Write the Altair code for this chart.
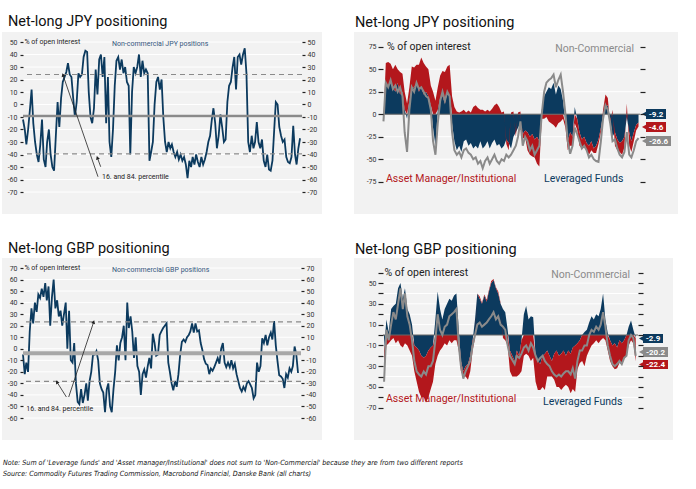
import altair as alt
import pandas as pd

# ------------------------------------------------------------------
# Values (% of open interest)
# ------------------------------------------------------------------
# Non-commercial net-long JPY, monthly from Jan 2006
JPY_NC_LONG = [
    -12, -20, -32, -20, -5, 12, -15, -30, -40, -46, -32, -12,
    -44, -50, -30, -20, -40, -50, -53, -25, 2, -18, 5, 18,
    22, 26, 33, 24, 22, 5, -10, 2, 25, 22, 24, 38,
    43, 42, 10, -10, -15, -3, 28, 8, 36, 40, 22, 38,
    -15, 22, -30, -42, -20, 15, 35, 38, 28, 36, 25, 30,
    18, 15, -40, 10, 30, 25, 30, 40, 22, 35, 25, 28,
    25, -45, -38, -30, 0, 18, 22, 12, 20, -10, -30, -38,
    -30, -35, -32, -38, -42, -38, -44, -40, -45, -42, -48, -59,
    -45, -50, -42, -48, -40, -46, -50, -42, -48, -44, -38, -30,
    -25, -12, -3, -15, -35, -25, -8, -18, -30, -28, 2, 15,
    18, 30, 38, 12, 38, 40, 32, 40, 45, 25, -30, -38,
    -25, -35, -30, -14, -30, -35, -28, -45, -50, -40, -52, -53,
    -45, -20, 2, 0, -18, -25, -30, -28, -42, -46, -47, -42,
    -17, -40, -48, -35, -27,
]
# Non-commercial net-long GBP, monthly from Jan 2006
GBP_NC_LONG = [
    -5, -22, -12, -20, 15, 35, 22, 40, 32, 47, 44, 52,
    45, 57, 42, 54, 20, 45, 60, 35, 42, 28, 33, 20,
    30, 40, 0, 33, -10, -12, 5, -30, -46, -48, -35, -47,
    -40, -30, -45, -28, -20, -5, -5, -2, -10, -30, -35, -38,
    -55, -35, -30, -50, -55, -35, -20, 3, -10, 5, 10, 20,
    -10, 40, 18, 28, 15, -8, 10, -15, -20, -40, -22, -18,
    -25, -15, -8, -17, 13, 5, -6, -5, 12, 15, 18, 20,
    22, -12, -20, -30, -36, -28, -33, -22, -5, 6, 8, 6,
    10, 12, 15, 22, 14, 22, 15, 16, 5, -1, -9, -13,
    -14, -22, -17, -19, -16, -12, -8, -13, 0, 5, -12, -16,
    -12, -16, -10, -17, -13, -22, -28, -34, -37, -33, -36, -30,
    -28, -31, -34, -43, -40, -12, -20, -15, 9, 5, 12, 3,
    10, 14, 8, 24, 3, -11, -23, -24, -26, -34, -22, -25,
    -17, -20, -15, 2, -5, -21,
]

# JPY by trader type, monthly from mid-Jun 2010
JPY_LEV = [
    -3, 35, 30, 38, 30, 25, 35,
    22, 25, 5, -5, 15, 28, 30, 35, 25, 30, 22, 25,
    20, 10, -15, -35, 5, 18, 20, 12, 25, 20, -10, -30,
    -40, -35, -42, -30, -28, -35, -32, -38, -35, -38, -30, -38,
    -35, -30, -38, -32, -28, -35, -33, -38, -35, -28, -32, -38,
    -25, -20, -15, -10, -22, -18, -20, -25, -22, -28, -25, -30,
    5, 20, 25, 30, 28, 35, 22, 32, 28, 15, -10, -30,
    -20, -25, 8, -5, -20, -28, -25, -32, -35, -30, -38, -35,
    -28, -15, 0, 8, 10, -5, -25, -20, -28, -32, -30, -25,
    -3, -20, -30, -20, -12, -9.2,
]
JPY_AM = [
    -2, 22, 28, 18, 20, 30, 15,
    25, 20, 20, 12, 15, 25, 22, 20, 30, 33, 35, 28,
    30, 22, 25, 15, 25, 25, 28, 35, 28, 35, 20, 8,
    3, 2, 3, 5, 2, 4, 2, 8, 10, 7, 5, 5,
    3, 5, 3, 6, 10, 12, 8, 2, 3, -5, -8, 2,
    3, -5, 2, 3, -5, -8, -20, -20, -25, -20, -30, -28,
    -5, -5, -3, -8, -10, -12, -15, -10, -8, -5, -5, -10,
    -15, -10, -10, -12, -15, -10, -12, -8, -10, -10, -5, -8,
    -5, -5, 5, 14, 8, -5, 5, -15, -12, -10, -15, -12,
    12, -15, -12, -10, -6, -4.6,
]
JPY_NC = [
    -8, 35, 30, 38, 28, 32, 25,
    30, 20, -20, -42, 5, 30, 25, 35, 28, 30, 25, 20,
    18, 5, -30, -45, -10, 15, 25, 15, 25, 20, -20, -40,
    -45, -42, -48, -40, -38, -43, -45, -50, -48, -55, -52, -60,
    -52, -48, -55, -50, -45, -52, -55, -50, -52, -45, -48, -45,
    -40, -35, -25, -8, -35, -25, -30, -40, -35, -45, -40, -35,
    0, 25, 35, 38, 40, 44, 30, 38, 44, 25, 0, -30,
    -44, -35, -15, -22, -30, -38, -35, -40, -48, -45, -50, -52,
    -53, -30, -5, 10, 5, -10, -30, -28, -38, -45, -48, -42,
    -20, -45, -48, -40, -30, -26.6,
]

# GBP by trader type, monthly from mid-Jun 2010
GBP_LEV = [
    -15, 15, 3, 25, 28, 30, 45,
    50, 35, 45, 25, 20, 10, -10, -12, -15, -20, -22, -20,
    -15, -12, -10, 15, 42, 25, 15, 25, 30, 35, 33, 38,
    40, 5, -25, -35, -30, -28, -20, -5, 15, 40, 35, 30,
    38, 32, 42, 50, 53, 45, 40, 30, 25, 22, 5, -15,
    -20, -25, -15, -20, -5, 20, 28, 15, 18, 17, -20, -25,
    -28, -20, -18, -15, -20, -25, -18, -15, -20, -18, -15, -20,
    -15, -18, -12, -10, -8, -5, 0, 3, 5, 12, 18, 15,
    20, 18, 25, 40, 15, 2, -5, -10, -8, -12, -5, -8,
    -5, 0, 8, 14, 5, -2.9,
]
GBP_AM = [
    -25, -10, -8, -5, -3, -8, -5,
    -10, -12, -8, -10, -15, -20, -25, -33, -40, -40, -38, -45,
    -45, -40, -35, -28, -20, -15, -12, -8, -10, -5, -8, -5,
    -5, -15, -10, -5, -10, -15, -15, -10, -3, 0, 2, 1,
    1, 2, 1, 2, 1, 1, 2, 1, -3, -5, -10, -20,
    -20, -15, -25, -18, -30, -20, -18, -20, -25, -22, -25, -28,
    -25, -30, -35, -25, -20, -15, -25, -35, -30, -35, -35, -28,
    -35, -38, -40, -45, -25, -22, -25, -30, -20, -15, -10, -8,
    -5, -8, -5, -3, -5, -15, -20, -20, -25, -20, -22, -20,
    -18, -20, -10, -5, -8, -22.4,
]
GBP_NC = [
    -45, 5, -5, 10, 22, 15, 30,
    45, 25, 40, 18, 10, -5, -25, -35, -38, -40, -35, -38,
    -30, -30, -25, -5, 20, 5, 0, 8, 10, 18, 20, 22,
    25, -10, -30, -42, -35, -30, -25, -10, 0, 10, 12, 8,
    10, 12, 15, 18, 22, 15, 18, 10, 8, 5, -10, -20,
    -24, -28, -20, -22, -18, -12, -10, -15, -8, -12, -20, -25,
    -22, -20, -25, -28, -30, -35, -38, -40, -38, -40, -37, -35,
    -35, -38, -32, -42, -25, -15, -15, -10, -10, 0, 5, 3,
    8, 5, 10, 22, 8, -10, -20, -28, -30, -28, -25, -28,
    -22, -20, -5, 0, -3, -20.2,
]

JPY_PCT = [24, -39.5]
JPY_AVG = -9.2
GBP_PCT = [23.3, -28.3]
GBP_AVG = -3.8

YEARS_LEFT = [2006, 2008, 2010, 2012, 2014, 2016, 2018]
YEARS_RIGHT = [2012, 2014, 2016, 2018]

# ------------------------------------------------------------------
NAVY = "#0c3a5e"
RED = "#b3171c"
GREY = "#8a8a8a"
PANEL = "#f2f2f2"
INK = "#222222"
FONT = "Roboto"
NARROW = "'DejaVu Sans Condensed', 'Liberation Sans Narrow', Roboto, sans-serif"
ONE = alt.Data(values=[{"a": 1}])


def dt(y, m=1, d=1):
    return alt.DateTime(year=y, month=m, date=d)


def box(x1, x2, y1, y2, color):
    return alt.Chart(ONE).mark_rect(color=color).encode(
        x=alt.value(x1), x2=alt.value(x2), y=alt.value(y1), y2=alt.value(y2))


def label(text, x, y, size, color, align="left", font=FONT, weight="normal",
          style="normal", baseline="middle"):
    return alt.Chart(ONE).mark_text(
        text=text, align=align, baseline=baseline, fontSize=size, color=color,
        font=font, fontWeight=weight, fontStyle=style).encode(
        x=alt.value(x), y=alt.value(y))


def tag(x1, x2, y1, y2, color, text):
    cy = (y1 + y2) / 2
    tri = alt.Chart(ONE).mark_point(shape="triangle-left", filled=True, size=22,
                                    color=color, opacity=1).encode(
        x=alt.value(x1 - 2), y=alt.value(cy))
    return [box(x1, x2, y1, y2, color), tri,
            label(text, (x1 + x2) / 2, cy + 0.5, 8, "white", align="center",
                  weight="bold")]


def y_axis(vals, orient, labels=True, tick=3, pad=3, expr="toString(datum.value)"):
    return alt.Axis(orient=orient, values=vals, grid=False, domain=False,
                    ticks=True, tickSize=tick, tickColor=INK, tickWidth=1.2,
                    labels=labels, labelFontSize=7, labelColor="#333",
                    labelPadding=pad, labelFont=FONT, labelExpr=expr,
                    title=None, zindex=1)


# ------------------------------------------------------------------
def left_panel(values, ydom, tickvals, avg, avg_color, avg_width, pct, xend,
               width, title, series_label, arrows, note, canvas=False,
               footnotes=None, title_y=-16):
    df = pd.DataFrame({"date": pd.date_range("2006-01-01", periods=len(values), freq="MS"),
                       "v": values})
    xs = alt.Scale(domain=[dt(2006), xend])
    ys = alt.Scale(domain=ydom, nice=False, zero=False)
    x_axis = alt.Axis(values=[dt(y) for y in YEARS_LEFT], format="%Y", grid=False,
                      domain=False, ticks=True, tickSize=5, tickColor=INK,
                      labelFontSize=8, labelColor="#444", labelPadding=3,
                      labelFont=FONT, labelFlush=False, labelOverlap=False,
                      title=None, zindex=1)

    layers = []
    if canvas:
        layers.append(box(-23, 673, -42, 447, "white"))
    layers.append(box(-21, 299, -10, 172, PANEL))

    grid = alt.Chart(pd.DataFrame({"g": tickvals})).mark_rule(
        color="white", strokeWidth=1).encode(y=alt.Y("g:Q", scale=ys, axis=None))
    line = alt.Chart(df).mark_line(color=NAVY, strokeWidth=1.8).encode(
        x=alt.X("date:T", scale=xs, axis=x_axis),
        y=alt.Y("v:Q", scale=ys, axis=y_axis(tickvals, "left", pad=3)))
    mean = alt.Chart(pd.DataFrame({"m": [avg]})).mark_rule(
        color=avg_color, strokeWidth=avg_width).encode(
        y=alt.Y("m:Q", scale=ys, axis=y_axis(tickvals, "right", pad=2)))
    dashed = alt.Chart(pd.DataFrame({"p": pct})).mark_rule(
        color=GREY, strokeWidth=1.2, strokeDash=[5, 4]).encode(
        y=alt.Y("p:Q", scale=ys, axis=None))

    adf = pd.DataFrame(arrows)
    adf["x"] = pd.to_datetime(adf["x"])
    adf["x2"] = pd.to_datetime(adf["x2"])
    arrow_lines = alt.Chart(adf).mark_rule(color=INK, strokeWidth=0.8).encode(
        x=alt.X("x:T", scale=xs, axis=None), y=alt.Y("y:Q", scale=ys, axis=None),
        x2="x2:T", y2="y2:Q")
    arrow_heads = alt.Chart(adf).mark_point(
        shape="triangle-up", filled=True, size=16, color=INK, opacity=1).encode(
        x=alt.X("x2:T", scale=xs, axis=None), y=alt.Y("y2:Q", scale=ys, axis=None),
        angle=alt.Angle("ang:Q", scale=None))
    ndf = pd.DataFrame({"x": [pd.Timestamp(note[0])], "y": [note[1]],
                        "t": ["16. and 84. percentile"]})
    note_text = alt.Chart(ndf).mark_text(
        align="left", baseline="middle", fontSize=7, color=INK, font=FONT).encode(
        x=alt.X("x:T", scale=xs, axis=None), y=alt.Y("y:Q", scale=ys, axis=None),
        text="t:N")

    layers += [grid, line, mean, dashed, arrow_lines, arrow_heads, note_text,
               label("% of open interest", 1.5, 0, 7, INK),
               label(series_label, 89, 1.5, 7, "#35577d"),
               label(title, -15, title_y, 14.5, "#111111", baseline="alphabetic")]
    if footnotes:
        for txt, yy in footnotes:
            layers.append(label(txt, -20, yy, 7.1, "#111111", font=NARROW, style="italic"))
    return alt.layer(*layers).resolve_axis(y="independent").properties(
        width=width, height=150)


def right_panel(lev, am, nc, ydom, yticks, ylabel_expr, gridvals, xdom, width,
                title, tags, text_pos, title_y):
    dates = pd.date_range("2010-06-01", periods=len(lev), freq="MS") + pd.Timedelta(days=14)
    long = pd.concat([
        pd.DataFrame({"date": dates, "value": lev, "series": "Leveraged Funds", "ord": 0}),
        pd.DataFrame({"date": dates, "value": am, "series": "Asset Manager/Institutional", "ord": 1}),
    ])
    ncdf = pd.DataFrame({"date": dates, "value": nc})
    xs = alt.Scale(domain=xdom)
    ys = alt.Scale(domain=ydom, range=[139.7, 4.7], nice=False, zero=False)
    x_axis = alt.Axis(values=[dt(y) for y in YEARS_RIGHT], format="%Y", grid=False,
                      domain=False, ticks=False, labelFontSize=10.5, labelColor="#333",
                      labelPadding=2, labelFont=FONT, labelFlush=False,
                      labelOverlap=False, title=None, zindex=1)

    grid = alt.Chart(pd.DataFrame({"g": gridvals})).mark_rule(
        color="white", strokeWidth=1).encode(y=alt.Y("g:Q", scale=ys, axis=None))
    area = alt.Chart(long).mark_area(interpolate="linear").encode(
        x=alt.X("date:T", scale=xs, axis=x_axis),
        y=alt.Y("value:Q", scale=ys, stack="zero",
                axis=y_axis(yticks, "left", tick=5, pad=2, expr=ylabel_expr)),
        color=alt.Color("series:N", legend=None,
                        scale=alt.Scale(domain=["Leveraged Funds", "Asset Manager/Institutional"],
                                        range=[NAVY, RED])),
        order=alt.Order("ord:Q"))
    zero = alt.Chart(pd.DataFrame({"z": [0]})).mark_rule(color="#666", strokeWidth=1).encode(
        y=alt.Y("z:Q", scale=ys, axis=y_axis(yticks, "right", labels=False, tick=5)))
    ncline = alt.Chart(ncdf).mark_line(color=GREY, strokeWidth=2).encode(
        x=alt.X("date:T", scale=xs, axis=None), y=alt.Y("value:Q", scale=ys, axis=None))

    layers = [box(-29, 295 if width > 256 else 290, -10, 172, PANEL), grid, area, zero, ncline]
    (px, py), (ncx, ncy), (amx, amy), (lfx, lfy) = text_pos
    layers += [label("% of open interest", px, py, 10.5, INK),
               label("Non-Commercial", ncx, ncy, 10.5, GREY, align="right"),
               label("Asset Manager/Institutional", amx, amy, 10.5, RED),
               label("Leveraged Funds", lfx, lfy, 10.5, NAVY),
               label(title, -28, title_y, 14.5, "#111111", baseline="alphabetic")]
    for t in tags:
        layers += tag(*t)
    return alt.layer(*layers).resolve_axis(y="independent").properties(
        width=width, height=150)


# ------------------------------------------------------------------
tl = left_panel(
    JPY_NC_LONG, [-70, 50], list(range(-70, 51, 10)), JPY_AVG, "#8a8a8a", 2.5, JPY_PCT,
    dt(2019, 6, 4), 279, "Net-long JPY positioning", "Non-commercial JPY positions",
    {"x": ["2009-08-11", "2009-09-27"], "y": [-57.8, -49.8],
     "x2": ["2007-12-04", "2009-07-31"], "y2": [23.6, -42.6], "ang": [341, 340]},
    ("2009-10-19", -57.8), canvas=True, title_y=-16)

bl = left_panel(
    GBP_NC_LONG, [-60, 70], list(range(-60, 71, 10)), GBP_AVG, "#a8a8a8", 4, GBP_PCT,
    dt(2019, 7, 24), 278, "Net-long GBP positioning", "Non-commercial GBP positions",
    {"x": ["2008-03-25", "2008-02-13"], "y": [-41.8, -41.8],
     "x2": ["2009-06-13", "2007-08-28"], "y2": [23.2, -28.8], "ang": [18, 328]},
    ("2006-03-01", -51.9),
    footnotes=[("Note: Sum of 'Leverage funds' and 'Asset manager/Institutional' does not sum to "
                "'Non-Commercial' because they are from two different reports", 194.7),
               ("Source: Commodity Futures Trading Commission, Macrobond Financial, "
                "Danske Bank (all charts)", 206)],
    title_y=-14.7)

tr = right_panel(
    JPY_LEV, JPY_AM, JPY_NC, [-75, 75], [75, 50, 25, 0, -25, -50, -75],
    "toString(datum.value)", [50, 25, -25, -50],
    [dt(2010, 6, 9), dt(2019, 7, 4)], 257, "Net-long JPY positioning",
    [(263, 283, 67, 77, NAVY, f"{JPY_LEV[-1]:.1f}"),
     (263, 283, 80, 90, RED, f"{JPY_AM[-1]:.1f}"),
     (263, 288, 94, 104, GREY, f"{JPY_NC[-1]:.1f}")],
    [(4, 5), (251, 6.5), (3, 137), (161, 137)], title_y=-15.3)

br = right_panel(
    GBP_LEV, GBP_AM, GBP_NC, [-70, 60], list(range(60, -71, -10)),
    "(datum.value % 20 == 10 || datum.value % 20 == -10) ? toString(datum.value) : ''",
    [50, 40, 30, 20, 10, -10, -20, -30, -40, -50, -60],
    [dt(2010, 6, 1), dt(2019, 7, 15)], 255, "Net-long GBP positioning",
    [(260, 280, 66, 75, NAVY, f"{GBP_LEV[-1]:.1f}"),
     (260, 285, 79, 89, GREY, f"{GBP_NC[-1]:.1f}"),
     (260, 285, 92, 101, RED, f"{GBP_AM[-1]:.1f}")],
    [(1.5, 5), (247, 7), (3, 131), (160, 134)], title_y=-14)

chart = alt.concat(tl, tr, bl, br, columns=2,
                   spacing={"row": 76, "column": 81}, bounds="flush").properties(
    padding=0, background="white").configure_view(stroke=None)

chart.save("out.html", embed_options={"renderer": "svg", "actions": False})
